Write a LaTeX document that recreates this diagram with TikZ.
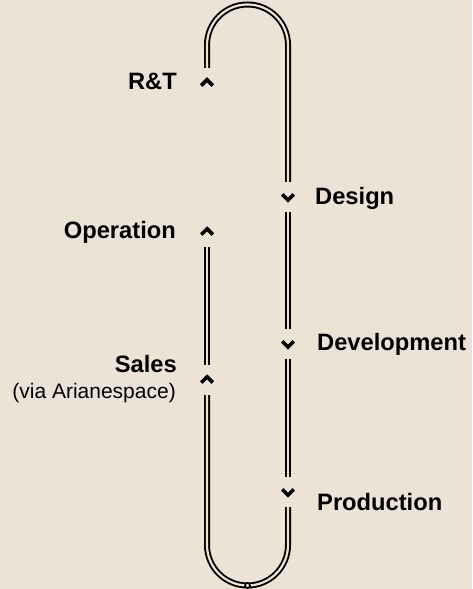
\documentclass[tikz,border=0pt]{standalone}
\usepackage{fontspec}
\setmainfont{Liberation Sans}
\usepackage{tikz}
\usetikzlibrary{positioning}
\definecolor{paper}{RGB}{236,227,214}

\tikzset{
    track/.style={line width=1.9pt, double=paper, double distance=2.2pt},
    stop/.style={inner sep=0pt, minimum width=14pt, minimum height=30pt},
    chevron/.style={line width=3.6pt, miter limit=4},
    phase/.style={inner sep=0pt, font=\bfseries\fontsize{23.7}{28}\selectfont},
    note/.style={inner sep=0pt, font=\fontsize{21}{25}\selectfont},
    knot/.style={circle, draw, fill=paper, line width=1.6pt, inner sep=0pt, minimum size=5pt}
}

\begin{document}
\begin{tikzpicture}[x=1pt,y=1pt]

\fill[paper] (0,0) rectangle (472,589);
\useasboundingbox (0,0) rectangle (472,589);

\foreach \name/\y in {rt/506, op/357, sa/209} {
    \node[stop] (\name) at (207,\y) {};
    \draw[chevron] ([shift={(-5.8,-2.6)}]\name.center) -- ++(5.8,5.8) -- ++(5.8,-5.8);
}
\foreach \name/\y in {de/392, dv/245, pr/97} {
    \node[stop] (\name) at (288,\y) {};
    \draw[chevron] ([shift={(-5.8,2.6)}]\name.center) -- ++(5.8,-5.8) -- ++(5.8,5.8);
}

\draw[track] (rt.north) -- (207,544) arc[start angle=180, end angle=0, radius=40.5] -- (de.north);
\draw[track] (de.south) -- (dv.north);
\draw[track] (dv.south) -- (pr.north);
\draw[track] (pr.south) -- (288,44) arc[start angle=0, end angle=-180, radius=40.5] -- (sa.south);
\draw[track] (sa.north) -- (op.south);
\node[knot] (join) at (247.5,3.5) {};

\node[phase, anchor=base east] (rtl) at (177,499) {R\&T};
\node[phase, anchor=base east] (opl) at (176,350) {Operation};
\node[phase, anchor=base east] (sal) at (177,216) {Sales};
\node[note, anchor=base east] (via) at (176,190) {(via Arianespace)};
\node[phase, anchor=base west] (del) at (315,384) {Design};
\node[phase, anchor=base west] (dvl) at (317,238) {Development};
\node[phase, anchor=base west] (prl) at (317,78) {Production};
\end{tikzpicture}
\end{document}
